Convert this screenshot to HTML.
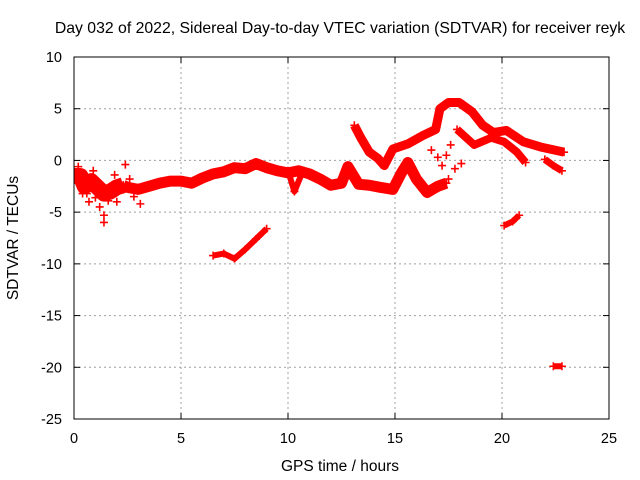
<!DOCTYPE html>
<html><head><meta charset="utf-8"><style>
body{margin:0;background:#fff;}
svg{display:block;font-family:"Liberation Sans",sans-serif;}
</style></head><body>
<svg id="chart" width="640" height="480">
<defs><clipPath id="plotclip"><rect x="74" y="57" width="535" height="362"/></clipPath></defs>
<g id="grid"></g>
<g id="series" clip-path="url(#plotclip)"></g>
<g id="axes"></g>
<text x="340" y="33" text-anchor="middle" font-size="15.8" fill="#000">Day 032 of 2022, Sidereal Day-to-day VTEC variation (SDTVAR) for receiver reyk</text>
<text x="340" y="471" text-anchor="middle" font-size="15.5">GPS time / hours</text>
<text transform="translate(18,238) rotate(-90)" text-anchor="middle" font-size="15.5">SDTVAR / TECUs</text>
</svg>
<script>
const xTicks=[0,5,10,15,20,25];
const yTicks=[10,5,0,-5,-10,-15,-20,-25];
const trackEarlyX=[0,0.3,0.5,0.8,1.0,1.4,1.7,2.0,2.3];
const trackEarlyY=[-1.5,-1.5,-2.5,-2,-2.4,-3.2,-3,-2.6,-2.4];
const trackMainX=[2.3,2.5,3.0,3.5,4.0,4.5,5.0,5.5,6.0,6.5,7.0,7.5,8.0,8.5,9.0,9.5,10.0,10.5,11.0,11.5,12.0,12.5,12.8,13.3,13.8,14.3,14.9,15.3,15.6,16.0,16.5,17.0,17.4];
const trackMainY=[-2.4,-2.6,-2.8,-2.5,-2.2,-2,-2,-2.2,-1.7,-1.3,-1.1,-0.7,-0.8,-0.3,-0.7,-1,-1.2,-1,-1.3,-1.8,-2.4,-2.2,-0.6,-2.3,-2.4,-2.6,-2.8,-1.2,-0.2,-1.8,-3.1,-2.5,-2.2];
const trackUpperX=[13.1,13.4,13.8,14.2,14.5,14.9,15.6,16.3,16.9,17.1,17.5,18.0,18.6,19.1,19.6,20.2,21.0,21.8,22.9];
const trackUpperY=[3.4,2.2,0.8,0.2,-0.5,1.1,1.6,2.4,3.0,5.0,5.6,5.6,4.7,3.4,2.7,2.9,1.8,1.3,0.8];
const branch1X=[17.9,18.7,19.5,20.1,20.7,21.1];
const branch1Y=[3.0,1.5,2.2,1.8,0.8,-0.2];
const branch2X=[22.0,22.4,22.8];
const branch2Y=[0.1,-0.5,-1.0];
const branch3X=[10.0,10.3,10.6];
const branch3Y=[-1.0,-3.0,-1.5];
const lowAX=[6.5,7.0,7.5,8.0,8.5,9.0];
const lowAY=[-9.2,-9.0,-9.5,-8.6,-7.6,-6.6];
const lowBX=[20.1,20.5,20.8];
const lowBY=[-6.3,-5.9,-5.3];
const lowCX=[22.4,22.8];
const lowCY=[-19.9,-19.9];
const scatterX=[0.2,0.4,0.7,0.9,1.2,1.4,1.4,1.6,2.0,2.4,2.8,3.1,0.6,1.0,1.9,2.6,17.2,17.4,17.6,17.8,17.5,17.0,18.1,16.7];
const scatterY=[-0.6,-3.2,-4.0,-1.0,-4.5,-5.3,-6.0,-3.9,-4.0,-0.4,-3.5,-4.2,-3.2,-3.6,-1.4,-1.8,-0.5,0.5,1.5,-0.8,-1.8,0.3,-0.3,1.0];

const NS="http://www.w3.org/2000/svg";
const L=74,R=609,T=57,B=419;
const sx=v=>L+(v-0)/(25-0)*(R-L);
const sy=v=>T+(10-v)/(10+25)*(B-T);
function mk(t,a,p){const e=document.createElementNS(NS,t);for(const k in a)e.setAttribute(k,a[k]);p.appendChild(e);return e;}
const grid=document.getElementById('grid'),axes=document.getElementById('axes'),ser=document.getElementById('series');
xTicks.forEach(v=>{
 if(v>0&&v<25){const g=mk('line',{x1:sx(v),x2:sx(v),y1:T,y2:B,stroke:'#a0a0a0','stroke-dasharray':'2,3'},grid);
 
 }
 mk('line',{x1:sx(v),x2:sx(v),y1:B,y2:B-6,stroke:'#000'},axes);
 mk('line',{x1:sx(v),x2:sx(v),y1:T,y2:T+6,stroke:'#000'},axes);
 const t=mk('text',{x:sx(v),y:B+24,'text-anchor':'middle','font-size':'14.5'},axes);t.textContent=v;
 
 
});
yTicks.forEach(v=>{
 if(v<10&&v>-25){const g=mk('line',{x1:L,x2:R,y1:sy(v),y2:sy(v),stroke:'#a0a0a0','stroke-dasharray':'2,3'},grid);
 
 }
 mk('line',{x1:L,x2:L+6,y1:sy(v),y2:sy(v),stroke:'#000'},axes);
 mk('line',{x1:R,x2:R-6,y1:sy(v),y2:sy(v),stroke:'#000'},axes);
 const t=mk('text',{x:L-12,y:sy(v)+5,'text-anchor':'end','font-size':'14.5'},axes);t.textContent=v;
 
 
});
mk('rect',{x:L,y:T,width:R-L,height:B-T,fill:'none',stroke:'#000'},axes);
function track(xs,ys,name,w){
 const d=xs.map((x,i)=>(i?'L':'M')+sx(x)+','+sy(ys[i])).join('');
 const p=mk('path',{d:d,fill:'none',stroke:'#ff0000','stroke-width':w,'stroke-linejoin':'round','stroke-linecap':'butt'},ser);
 
 
 xs.forEach((x,i)=>{plus(x,ys[i]);});
}
function plus(x,y){
 const cx=sx(x),cy=sy(y);
 const m=mk('path',{d:`M${cx-4},${cy}h8M${cx},${cy-4}v8`,stroke:'#ff0000','stroke-width':1.6},ser);
 
 
}
track(trackEarlyX,trackEarlyY,'early-track',16);
track(trackMainX,trackMainY,'main-track',11);
track(trackUpperX,trackUpperY,'upper-track',9);
track(branch1X,branch1Y,'branch-track-1',8);
track(branch2X,branch2Y,'branch-track-2',7);
track(branch3X,branch3Y,'branch-track-3',6);
track(lowAX,lowAY,'low-track-a',6);
track(lowBX,lowBY,'low-track-b',6);
track(lowCX,lowCY,'low-track-c',6);
scatterX.forEach((x,i)=>plus(x,scatterY[i]));
</script>
</body></html>
